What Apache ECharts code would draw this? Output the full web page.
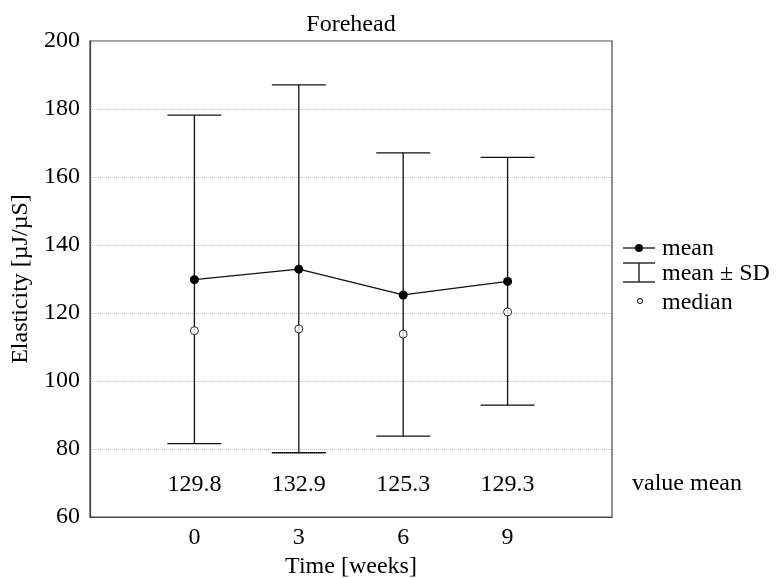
<!DOCTYPE html>
<html><head><meta charset="utf-8">
<script src="https://cdn.jsdelivr.net/npm/echarts@6/dist/echarts.min.js"></script>
<style>html,body{margin:0;padding:0;background:#fff}#c{width:776px;height:578px}</style>
</head><body><div id="c"></div>
<script>
const weeks = [0, 3, 6, 9];
const means = [129.8, 132.9, 125.3, 129.3];
const sdUpper = [178.2, 187.1, 167.1, 165.8];
const sdLower = [81.6, 78.9, 83.8, 92.9];
const medians = [114.8, 115.3, 113.8, 120.3];
const yTicks = [60, 80, 100, 120, 140, 160, 180, 200];

const FONT = 'Liberation Serif';
const FS = 24;
const labelRowY = 69.5;
const ink = '#111';

const chart = echarts.init(document.getElementById('c'), null, {renderer: 'canvas'});
const option = {
  animation: false,
  backgroundColor: '#fff',
  textStyle: {fontFamily: FONT},
  grid: {left: 90, right: 164, top: 41, bottom: 61, show: true, borderColor: '#444', borderWidth: 1.2,
    containLabel: false, outerBoundsMode: 'none'},
  xAxis: {
    type: 'value', min: -3, max: 12, interval: 3,
    name: 'Time [weeks]', nameLocation: 'middle', nameGap: 38,
    nameTextStyle: {fontFamily: FONT, fontSize: FS, color: '#000'},
    axisLine: {show: true, onZero: false, lineStyle: {color: '#444', width: 1.2}},
    axisTick: {show: false},
    splitLine: {show: false},
    axisLabel: {fontFamily: FONT, fontSize: FS, color: '#000', margin: 9,
      formatter: v => weeks.includes(v) ? String(v) : ''}
  },
  yAxis: {
    type: 'value', min: yTicks[0], max: yTicks[yTicks.length - 1], interval: 20,
    name: 'Elasticity [\u00b5J/\u00b5S]', nameLocation: 'middle', nameGap: 50, nameRotate: 90,
    nameTextStyle: {fontFamily: FONT, fontSize: FS, color: '#000'},
    axisLine: {show: true, onZero: false, lineStyle: {color: '#444', width: 1.2}},
    axisTick: {show: false},
    splitLine: {show: true, lineStyle: {color: '#bbb', type: [1, 1], width: 1}},
    axisLabel: {fontFamily: FONT, fontSize: FS, color: '#000', margin: 10}
  },
  series: [
    {
      name: 'mean ± SD', type: 'custom',
      data: weeks.map((w, i) => [w, sdLower[i], sdUpper[i]]),
      encode: {x: 0, y: [1, 2]},
      z: 2,
      renderItem: function (params, api) {
        const x = api.value(0);
        const lo = api.coord([x, api.value(1)]);
        const hi = api.coord([x, api.value(2)]);
        const hw = 27;
        const st = {stroke: ink, lineWidth: 1.3};
        return {type: 'group', children: [
          {type: 'line', shape: {x1: lo[0], y1: lo[1], x2: hi[0], y2: hi[1]}, style: st},
          {type: 'line', shape: {x1: hi[0] - hw, y1: hi[1], x2: hi[0] + hw, y2: hi[1]}, style: st},
          {type: 'line', shape: {x1: lo[0] - hw, y1: lo[1], x2: lo[0] + hw, y2: lo[1]}, style: st}
        ]};
      }
    },
    {
      name: 'mean', type: 'line',
      data: weeks.map((w, i) => [w, means[i]]),
      symbol: 'circle', symbolSize: 9, z: 3,
      lineStyle: {color: ink, width: 1.3},
      itemStyle: {color: '#000'}
    },
    {
      name: 'median', type: 'scatter',
      data: weeks.map((w, i) => [w, medians[i]]),
      symbol: 'circle', symbolSize: 8, z: 4,
      itemStyle: {color: '#fff', borderColor: '#000', borderWidth: 1}
    },
    {
      name: 'value mean labels', type: 'custom',
      data: weeks.map((w, i) => [w, means[i]]),
      encode: {x: 0, y: 1},
      renderItem: function (params, api) {
        const p = api.coord([api.value(0), labelRowY]);
        return {type: 'text', x: p[0], y: p[1], style: {
          text: api.value(1).toFixed(1), font: FS + 'px ' + FONT, fill: '#000',
          align: 'center', verticalAlign: 'middle'}};
      }
    }
  ],
  graphic: [
    {type: 'text', x: 351, y: 25, style: {text: 'Forehead', font: FS + 'px ' + FONT, fill: '#000', align: 'center', verticalAlign: 'middle'}},
    {type: 'text', x: 632, y: 484, style: {text: 'value mean', font: FS + 'px ' + FONT, fill: '#000', align: 'left', verticalAlign: 'middle'}},
    {type: 'group', children: [
      {type: 'line', shape: {x1: 623, y1: 248, x2: 655, y2: 248}, style: {stroke: ink, lineWidth: 1.3}},
      {type: 'circle', shape: {cx: 639, cy: 248, r: 4}, style: {fill: '#000'}},
      {type: 'text', x: 662, y: 249, style: {text: 'mean', font: FS + 'px ' + FONT, fill: '#000', verticalAlign: 'middle'}},
      {type: 'line', shape: {x1: 623, y1: 263, x2: 655, y2: 263}, style: {stroke: ink, lineWidth: 1.3}},
      {type: 'line', shape: {x1: 623, y1: 282, x2: 655, y2: 282}, style: {stroke: ink, lineWidth: 1.3}},
      {type: 'line', shape: {x1: 639, y1: 263, x2: 639, y2: 282}, style: {stroke: ink, lineWidth: 1.3}},
      {type: 'text', x: 662, y: 274, style: {text: 'mean \u00b1 SD', font: FS + 'px ' + FONT, fill: '#000', verticalAlign: 'middle'}},
      {type: 'circle', shape: {cx: 640, cy: 301, r: 2.5}, style: {fill: '#fff', stroke: '#000', lineWidth: 1}},
      {type: 'text', x: 662, y: 303, style: {text: 'median', font: FS + 'px ' + FONT, fill: '#000', verticalAlign: 'middle'}}
    ]}
  ]
};
chart.setOption(option);
</script>
</body></html>
